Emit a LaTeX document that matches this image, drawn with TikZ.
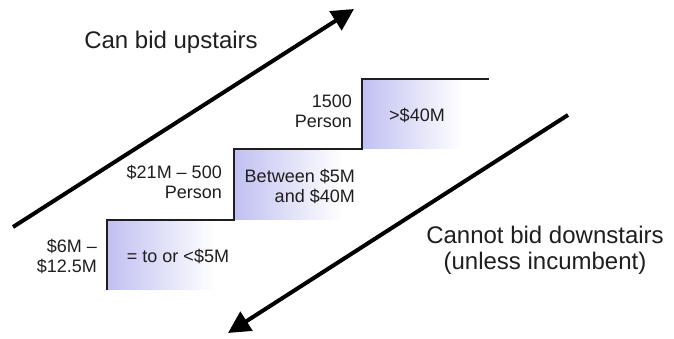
\documentclass[tikz,border=0pt]{standalone}
\usepackage{fontspec}
\setmainfont{Liberation Sans}
\usetikzlibrary{arrows.meta,positioning}
\definecolor{stairlav}{RGB}{192,192,242}
\definecolor{stairink}{RGB}{30,30,30}
\tikzset{
  bigarr/.style={-{Triangle[length=22pt,width=22pt]}, line width=4pt, black},
  stairline/.style={line width=1.8pt, stairink},
  stairfill/.style={left color=stairlav, right color=white, draw=none},
  biglabel/.style={font=\fontsize{24}{26}\selectfont, align=center, text=stairink},
  steplabel/.style={font=\fontsize{18}{20}\selectfont, align=right, anchor=east,
    inner sep=0pt, text=stairink},
  boxlabel/.style={font=\fontsize{18}{20}\selectfont, align=center, inner sep=0pt,
    text=stairink}
}

\begin{document}
\begin{tikzpicture}[x=1pt,y=1pt]
  \useasboundingbox (0,0) rectangle (674,339);
  % tiers
  \shade[stairfill] (107,49) rectangle (215,119);
  \shade[stairfill] (234,119) rectangle (342,190);
  \shade[stairfill] (362,190) rectangle (462,260);
  \draw[stairline] (107,49) |- (234,119) |- (362,190) |- (489,260);

  % arrows
  \coordinate (upfrom) at (13,112);
  \coordinate (upto) at (354,330);
  \coordinate (downfrom) at (568,224);
  \coordinate (downto) at (228,6);
  \draw[bigarr] (upfrom) -- (upto);
  \draw[bigarr] (downfrom) -- (downto);

  \node[biglabel] (upnote) at (171,297) {Can bid upstairs};
  \node[biglabel] (downnote) at (545,89) {Cannot bid downstairs\\(unless incumbent)};

  \node[steplabel] (lowsize) at (97,83) {\$6M –\\\$12.5M};
  \node[boxlabel] (lowval) at (178,83) {= to or <\$5M};
  \node[steplabel] (midsize) at (222,157) {\$21M – 500\\Person};
  \node[steplabel] (midval) at (355,153) {Between \$5M\\and \$40M};
  \node[steplabel] (topsize) at (352,228) {1500\\Person};
  \node[boxlabel] (topval) at (417,224) {>\$40M};
\end{tikzpicture}
\end{document}
